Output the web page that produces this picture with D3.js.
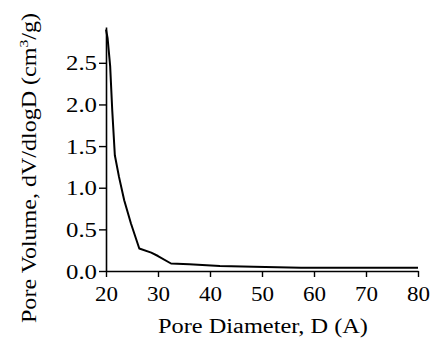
<!DOCTYPE html>
<html lang="en">
<head>
    <meta charset="UTF-8">
    <title>Pore size distribution</title>
    <script src="https://cdnjs.cloudflare.com/ajax/libs/d3/7.8.5/d3.min.js"></script>
    <style>
        body { margin: 0; background: #fff; }
        text { font-family: "Liberation Serif", "Times New Roman", serif; }
    </style>
</head>
<body>
    <div id="wrapper"></div>
    <script>
        // data
        const diameters = [20, 20.3, 20.8, 21.2, 21.7, 22.5, 23.5, 24.8, 26.4, 28.7, 30, 32.5, 36, 41.9, 48.4, 57.5, 70, 80]
        const volumes = [2.9, 2.8, 2.46, 1.93, 1.39, 1.13, 0.85, 0.57, 0.27, 0.22, 0.18, 0.09, 0.08, 0.06, 0.05, 0.04, 0.04, 0.04]
        const xTicks = [20, 30, 40, 50, 60, 70, 80]
        const yTicks = [0, 0.5, 1.0, 1.5, 2.0, 2.5]

        const dataset = diameters.map((d, i) => ({ d, v: volumes[i] }))

        const dimensions = {
            width: 432,
            height: 343,
            margin: { top: 27, right: 14, bottom: 72, left: 106 }
        }
        dimensions.boundedWidth = dimensions.width - dimensions.margin.left - dimensions.margin.right
        dimensions.boundedHeight = dimensions.height - dimensions.margin.top - dimensions.margin.bottom

        const svg = d3.select('#wrapper')
            .append('svg')
                .attr('width', dimensions.width)
                .attr('height', dimensions.height)

        const bounds = svg.append('g')
            .attr('transform', `translate(${dimensions.margin.left},${dimensions.margin.top})`)

        const xScale = d3.scaleLinear()
            .domain([20, 80])
            .range([0, dimensions.boundedWidth])

        const yScale = d3.scaleLinear()
            .domain([0, 2.93])
            .range([dimensions.boundedHeight, 0])

        // curve
        const line = d3.line()
            .x(p => xScale(p.d))
            .y(p => yScale(p.v))

        bounds.append('path')
            .datum(dataset)
            .attr('d', line)
            .attr('fill', 'none')
            .attr('stroke', '#000')
            .attr('stroke-width', 2)
            .attr('stroke-linejoin', 'round')

        // axes
        const xAxis = bounds.append('g')
            .attr('transform', `translate(0,${dimensions.boundedHeight})`)
            .call(d3.axisBottom(xScale).tickValues(xTicks).tickSize(6).tickPadding(8).tickSizeOuter(0))
        const yAxis = bounds.append('g')
            .call(d3.axisLeft(yScale).tickValues(yTicks).tickFormat(d3.format('.1f')).tickSize(7).tickPadding(2).tickSizeOuter(0))

        ;[xAxis, yAxis].forEach(ax => {
            ax.select('.domain').attr('stroke-width', 1.6)
            ax.selectAll('.tick line').attr('stroke-width', 1.4)
            ax.selectAll('.tick text')
                .attr('fill', '#000')
                .style('font-size', '22px')
                .style('font-family', '"Liberation Serif", serif')
        })
        yAxis.selectAll('.tick text').attr('textLength', 31).attr('lengthAdjust', 'spacingAndGlyphs')
        xAxis.selectAll('.tick text').attr('textLength', 23).attr('lengthAdjust', 'spacingAndGlyphs')

        // axis titles
        svg.append('text')
            .attr('x', 263)
            .attr('y', 333)
            .attr('text-anchor', 'middle')
            .attr('textLength', 210)
            .attr('lengthAdjust', 'spacingAndGlyphs')
            .style('font-size', '20px')
            .text('Pore Diameter, D (A)')

        const yTitle = svg.append('text')
            .attr('transform', 'translate(36,168) rotate(-90)')
            .attr('text-anchor', 'middle')
            .attr('textLength', 310)
            .attr('lengthAdjust', 'spacingAndGlyphs')
            .style('font-size', '20px')
        yTitle.append('tspan').text('Pore Volume, dV/dlogD (cm')
        yTitle.append('tspan').attr('dy', -8).style('font-size', '13px').text('3')
        yTitle.append('tspan').attr('dy', 8).text('/g)')
    </script>
</body>
</html>
